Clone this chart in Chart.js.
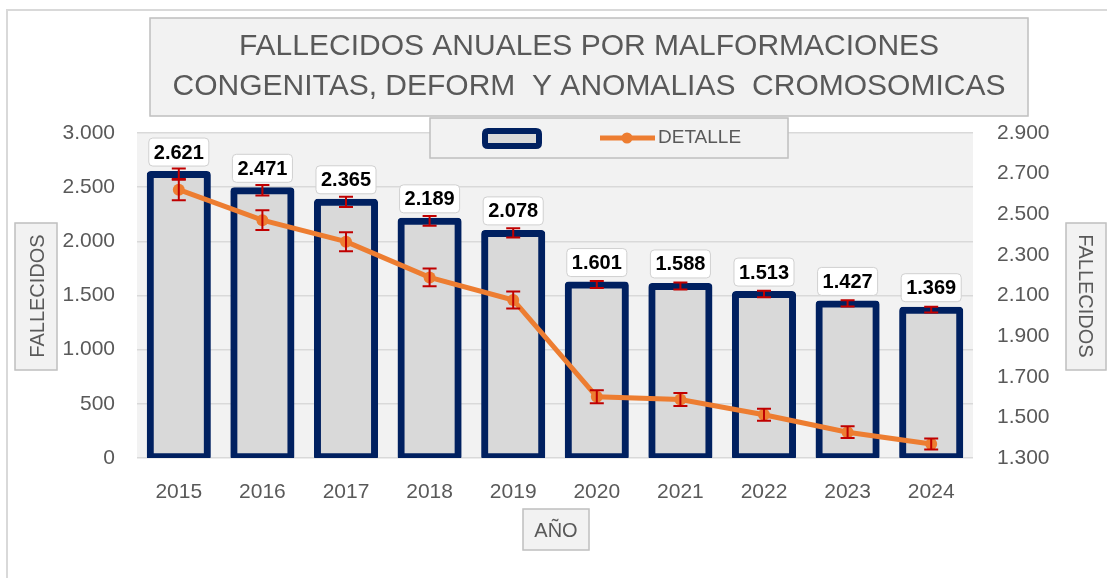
<!DOCTYPE html>
<html>
<head>
<meta charset="utf-8">
<script src="https://cdn.jsdelivr.net/npm/chart.js"></script>
<style>
  body { margin: 0; background: #ffffff; }
  #myChartContainer { width: 1107px; height: 578px; }
</style>
</head>
<body>
<div id="myChartContainer"><canvas id="myChart" width="1107" height="578"></canvas></div>
<script>
var years = ["2015", "2016", "2017", "2018", "2019", "2020", "2021", "2022", "2023", "2024"];
var fallecidos = [2621, 2471, 2365, 2189, 2078, 1601, 1588, 1513, 1427, 1369];
var detalle = [2621, 2471, 2365, 2189, 2078, 1601, 1588, 1513, 1427, 1369];
var errFallecidos = [52, 49, 47, 44, 42, 32, 32, 30, 29, 27];
var errDetalle = [52, 49, 47, 44, 42, 32, 32, 30, 29, 27];
var titleLines = ["FALLECIDOS ANUALES POR MALFORMACIONES", "CONGENITAS, DEFORM  Y ANOMALIAS  CROMOSOMICAS"];

var FONT = '"Liberation Sans", Arial, sans-serif';
var GREY_TEXT = '#595959';
var NAVY = '#002060';
var ORANGE = '#ed7d31';
var RED = '#c00000';

function fmt(v) {
    return String(v).replace(/\B(?=(\d{3})+(?!\d))/g, '.');
}

function roundRect(ctx, x, y, w, h, r) {
    ctx.beginPath();
    ctx.moveTo(x + r, y);
    ctx.lineTo(x + w - r, y);
    ctx.quadraticCurveTo(x + w, y, x + w, y + r);
    ctx.lineTo(x + w, y + h - r);
    ctx.quadraticCurveTo(x + w, y + h, x + w - r, y + h);
    ctx.lineTo(x + r, y + h);
    ctx.quadraticCurveTo(x, y + h, x, y + h - r);
    ctx.lineTo(x, y + r);
    ctx.quadraticCurveTo(x, y, x + r, y);
    ctx.closePath();
}

function greyBox(ctx, x, y, w, h) {
    ctx.fillStyle = '#f2f2f2';
    ctx.fillRect(x, y, w, h);
    ctx.strokeStyle = '#bfbfbf';
    ctx.lineWidth = 1.5;
    ctx.strokeRect(x, y, w, h);
}

// background, plot area and outer frame
var backgroundPlugin = {
    id: 'background',
    beforeDraw: function(chart) {
        var ctx = chart.ctx, a = chart.chartArea;
        ctx.save();
        ctx.fillStyle = '#ffffff';
        ctx.fillRect(0, 0, chart.width, chart.height);
        ctx.strokeStyle = '#d9d9d9';
        ctx.lineWidth = 2;
        ctx.strokeRect(7, 10, chart.width + 10, chart.height + 10);
        ctx.fillStyle = '#f2f2f2';
        ctx.fillRect(a.left, a.top, a.right - a.left, a.bottom - a.top);
        ctx.restore();
    }
};

// error bars for both series
var errorBarsPlugin = {
    id: 'errorBars',
    afterDatasetDraw: function(chart, args) {
        var ds = chart.data.datasets[args.index];
        if (!ds.errors) return;
        var ctx = chart.ctx;
        var scale = chart.scales[ds.yAxisID];
        ctx.save();
        ctx.strokeStyle = RED;
        ctx.lineWidth = 2;
        args.meta.data.forEach(function(el, i) {
            var v = ds.data[i], e = ds.errors[i];
            var x = el.x;
            var y1 = scale.getPixelForValue(v + e);
            var y2 = scale.getPixelForValue(v - e);
            ctx.beginPath();
            ctx.moveTo(x, y1); ctx.lineTo(x, y2);
            ctx.moveTo(x - 7, y1); ctx.lineTo(x + 7, y1);
            ctx.moveTo(x - 7, y2); ctx.lineTo(x + 7, y2);
            ctx.stroke();
        });
        ctx.restore();
    }
};

// value labels in white boxes above the bars
var labelsPlugin = {
    id: 'valueLabels',
    afterDatasetsDraw: function(chart) {
        var ctx = chart.ctx;
        var meta = chart.getDatasetMeta(0);
        ctx.save();
        ctx.font = 'bold 20px ' + FONT;
        ctx.textAlign = 'center';
        ctx.textBaseline = 'middle';
        meta.data.forEach(function(el, i) {
            var txt = fmt(chart.data.datasets[0].data[i]);
            var w = ctx.measureText(txt).width + 10;
            var cy = el.y - 22;
            roundRect(ctx, el.x - w / 2, cy - 14, w, 28, 4);
            ctx.fillStyle = '#ffffff';
            ctx.fill();
            ctx.strokeStyle = '#d0d0d0';
            ctx.lineWidth = 1;
            ctx.stroke();
            ctx.fillStyle = '#000000';
            ctx.fillText(txt, el.x, cy + 1);
        });
        ctx.restore();
    }
};

// title, legend and axis title boxes
var decorPlugin = {
    id: 'decor',
    afterDraw: function(chart) {
        var ctx = chart.ctx;
        ctx.save();
        // title
        greyBox(ctx, 150, 18, 878, 98);
        ctx.fillStyle = GREY_TEXT;
        ctx.font = '30px ' + FONT;
        ctx.textAlign = 'center';
        ctx.textBaseline = 'middle';
        ctx.fillText(titleLines[0], 589, 47);
        ctx.fillText(titleLines[1], 589, 87);

        // legend
        greyBox(ctx, 430, 118, 358, 40);
        roundRect(ctx, 485, 131, 54, 15, 3);
        ctx.fillStyle = '#d9d9d9';
        ctx.fill();
        ctx.strokeStyle = NAVY;
        ctx.lineWidth = 6;
        ctx.stroke();
        ctx.strokeStyle = ORANGE;
        ctx.lineWidth = 5;
        ctx.beginPath();
        ctx.moveTo(600, 138); ctx.lineTo(655, 138);
        ctx.stroke();
        ctx.fillStyle = ORANGE;
        ctx.beginPath();
        ctx.arc(627, 138, 5.5, 0, Math.PI * 2);
        ctx.fill();
        ctx.fillStyle = GREY_TEXT;
        ctx.font = '19px ' + FONT;
        ctx.textAlign = 'left';
        ctx.fillText('DETALLE', 658, 138);

        // axis titles
        ctx.font = '20px ' + FONT;
        ctx.textAlign = 'center';
        greyBox(ctx, 15, 223, 42, 147);
        ctx.save();
        ctx.translate(37, 296);
        ctx.rotate(-Math.PI / 2);
        ctx.fillStyle = GREY_TEXT;
        ctx.fillText('FALLECIDOS', 0, 1);
        ctx.restore();

        greyBox(ctx, 1066, 223, 40, 147);
        ctx.save();
        ctx.translate(1086, 296);
        ctx.rotate(Math.PI / 2);
        ctx.fillStyle = GREY_TEXT;
        ctx.fillText('FALLECIDOS', 0, 1);
        ctx.restore();

        greyBox(ctx, 523, 509, 66, 41);
        ctx.fillStyle = GREY_TEXT;
        ctx.fillText('AÑO', 556, 531);
        ctx.restore();
    }
};

document.addEventListener('DOMContentLoaded', function(){
    var data = {
        labels: years,
        datasets: [{
            type: 'bar',
            label: 'FALLECIDOS',
            data: fallecidos,
            errors: errFallecidos,
            yAxisID: 'y',
            backgroundColor: '#d9d9d9',
            borderColor: NAVY,
            borderWidth: 7,
            borderRadius: 4,
            borderSkipped: false,
            inflateAmount: 3,
            categoryPercentage: 1,
            barPercentage: 0.695,
            order: 2
        }, {
            type: 'line',
            label: 'DETALLE',
            data: detalle,
            errors: errDetalle,
            yAxisID: 'y1',
            borderColor: ORANGE,
            backgroundColor: ORANGE,
            borderWidth: 5,
            pointRadius: 6,
            pointBorderWidth: 0,
            tension: 0,
            order: 1
        }]
    };
    var tickFont = { family: FONT, size: 21 };
    var options = {
        responsive: false,
        animation: false,
        devicePixelRatio: 1,
        layout: { padding: { top: 133, left: 0, right: 0, bottom: 0 } },
        plugins: {
            legend: { display: false },
            title: { display: false },
            tooltip: { enabled: false }
        },
        scales: {
            x: {
                grid: { display: false },
                border: { display: false },
                ticks: { color: GREY_TEXT, font: tickFont, padding: 14, maxRotation: 0 },
                afterFit: function(s) { s.height = 120; }
            },
            y: {
                position: 'left',
                min: 0,
                max: 3000,
                grid: { color: '#d9d9d9', lineWidth: 1.5, drawTicks: false },
                border: { display: false },
                ticks: { stepSize: 500, color: GREY_TEXT, font: tickFont, padding: 22,
                    callback: function(v) { return fmt(v); } },
                afterFit: function(s) { s.width = 137; }
            },
            y1: {
                position: 'right',
                min: 1300,
                max: 2900,
                grid: { display: false, drawTicks: false },
                border: { display: false },
                ticks: { stepSize: 200, color: GREY_TEXT, font: tickFont, padding: 24,
                    callback: function(v) { return fmt(v); } },
                afterFit: function(s) { s.width = 134; }
            }
        }
    };

    var ctx = document.getElementById("myChart").getContext('2d');
    var myChart = new Chart(ctx, {
        type: 'bar',
        data: data,
        options: options,
        plugins: [backgroundPlugin, errorBarsPlugin, labelsPlugin, decorPlugin]
    });
});
</script>
</body>
</html>
